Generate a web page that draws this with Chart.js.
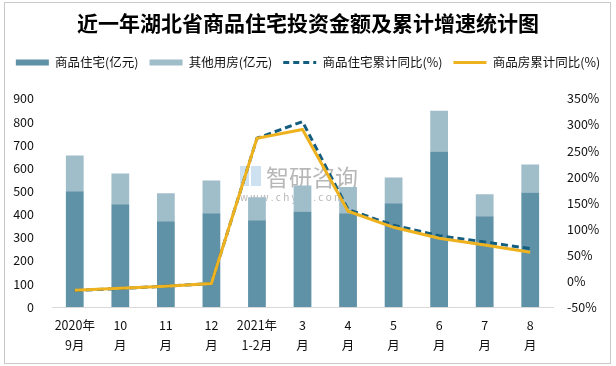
<!DOCTYPE html>
<html>
<head>
<meta charset="utf-8">
<script src="https://cdn.jsdelivr.net/npm/chart.js@4.4.0/dist/chart.umd.min.js"></script>
<style>
  body { margin: 0; background: #fff; }
  #wrap { position: relative; width: 616px; height: 366px; }
  #frame { position: absolute; left: 4px; top: 2px; width: 605px; height: 360px; border: 1px solid #c9c9c9; pointer-events: none; }
  canvas { position: absolute; left: 0; top: 0; }
</style>
</head>
<body>
<div id="wrap">
  <canvas id="chart" width="616" height="366"></canvas>
  <div id="frame"></div>
</div>
<script>
// chart data
const categories = [['2020年', '9月'], ['10', '月'], ['11', '月'], ['12', '月'], ['2021年', '1-2月'],
                    ['3', '月'], ['4', '月'], ['5', '月'], ['6', '月'], ['7', '月'], ['8', '月']];
const housing = [500, 444, 370, 405, 375, 413, 405, 448, 672, 392, 495];
const otherUse = [155, 133, 121, 142, 99, 112, 113, 112, 176, 95, 121];
const housingYoY = [-18.3, -14.5, -10, -5, 274, 306, 137, 107, 87, 75, 62];
const allYoY = [-18, -14, -10, -5, 274, 291, 134, 103, 82, 69, 55];
const leftTicks = [0, 100, 200, 300, 400, 500, 600, 700, 800, 900];
const rightTicks = [-50, 0, 50, 100, 150, 200, 250, 300, 350];

const FONT = "'Noto Sans CJK SC', 'Noto Sans', sans-serif";

// faint site watermark
const watermark = {
    id: 'watermark',
    beforeDatasetsDraw(chart) {
        const ctx = chart.ctx;
        ctx.save();
        ctx.fillStyle = 'rgba(190,215,235,0.75)';
        ctx.fillRect(240, 166, 9, 20);
        ctx.fillRect(251, 166, 10, 20);
        ctx.fillStyle = 'rgba(165,165,165,0.8)';
        ctx.font = '23px ' + FONT;
        ctx.textBaseline = 'middle';
        ctx.fillText('智研咨询', 266, 177);
        ctx.font = '10px ' + FONT;
        ctx.fillText('w w w . c h y x x . c o m', 240, 197);
        ctx.restore();
    }
};

// extra room under the legend
const legendGap = {
    id: 'legendGap',
    beforeInit(chart) {
        const fit = chart.legend.fit;
        chart.legend.fit = function() {
            fit.bind(chart.legend)();
            this.height += 20;
        };
    }
};

const ctx = document.getElementById('chart').getContext('2d');
const chart = new Chart(ctx, {
    type: 'bar',
    data: {
        labels: categories,
        datasets: [
            {
                label: '商品住宅(亿元)',
                data: housing,
                backgroundColor: '#5f91a7',
                stack: 'amt',
                order: 2,
                barPercentage: 0.39,
                categoryPercentage: 1
            },
            {
                label: '其他用房(亿元)',
                data: otherUse,
                backgroundColor: '#a0bdca',
                stack: 'amt',
                order: 2,
                barPercentage: 0.39,
                categoryPercentage: 1
            },
            {
                type: 'line',
                label: '商品住宅累计同比(%)',
                data: housingYoY,
                yAxisID: 'y1',
                borderColor: '#135d7e',
                backgroundColor: '#135d7e',
                borderWidth: 3,
                borderDash: [7, 4],
                pointRadius: 0,
                tension: 0,
                order: 1
            },
            {
                type: 'line',
                label: '商品房累计同比(%)',
                data: allYoY,
                yAxisID: 'y1',
                borderColor: '#efb21f',
                backgroundColor: '#efb21f',
                borderWidth: 3,
                pointRadius: 0,
                tension: 0,
                order: 0
            }
        ]
    },
    options: {
        responsive: false,
        animation: false,
        layout: {
            padding: { left: 4, right: 4, top: 8, bottom: 3 }
        },
        plugins: {
            title: {
                display: true,
                text: '近一年湖北省商品住宅投资金额及累计增速统计图',
                color: '#000',
                font: { family: FONT, size: 21, weight: 'bold' },
                padding: { top: 2, bottom: 10 }
            },
            legend: {
                position: 'top',
                labels: {
                    usePointStyle: true,
                    pointStyleWidth: 33,
                    boxHeight: 6,
                    padding: 11,
                    color: '#111',
                    font: { family: FONT, size: 12.5 },
                    sort: (a, b) => a.datasetIndex - b.datasetIndex,
                    generateLabels(chart) {
                        const items = Chart.defaults.plugins.legend.labels.generateLabels(chart);
                        items.forEach(item => {
                            if (item.datasetIndex < 2) {
                                item.pointStyle = 'rect';
                                item.lineWidth = 0;
                            } else {
                                item.pointStyle = 'line';
                                item.lineWidth = 3;
                                item.lineDash = item.datasetIndex === 2 ? [6, 4] : [];
                            }
                        });
                        return items;
                    }
                }
            },
            tooltip: { enabled: false }
        },
        scales: {
            x: {
                stacked: true,
                grid: { display: false, drawTicks: false },
                border: { display: true, color: '#d9d9d9', width: 1 },
                ticks: {
                    color: '#111',
                    padding: 8,
                    maxRotation: 0,
                    autoSkip: false,
                    font: { family: FONT, size: 12.5, lineHeight: 1.6 }
                }
            },
            y: {
                stacked: true,
                position: 'left',
                min: 0,
                max: 900,
                afterBuildTicks(axis) { axis.ticks = leftTicks.map(v => ({ value: v })); },
                afterFit(axis) { axis.width = 48; },
                grid: { display: false, drawTicks: false },
                border: { display: false },
                ticks: {
                    color: '#111',
                    padding: 18,
                    font: { family: FONT, size: 12.5 }
                }
            },
            y1: {
                position: 'right',
                min: -50,
                max: 350,
                afterBuildTicks(axis) { axis.ticks = rightTicks.map(v => ({ value: v })); },
                afterFit(axis) { axis.width = 59; },
                grid: { display: false, drawTicks: false },
                border: { display: false },
                ticks: {
                    color: '#111',
                    padding: 14,
                    font: { family: FONT, size: 12.5 },
                    callback: v => v + '%'
                }
            }
        }
    },
    plugins: [watermark, legendGap]
});
</script>
</body>
</html>
